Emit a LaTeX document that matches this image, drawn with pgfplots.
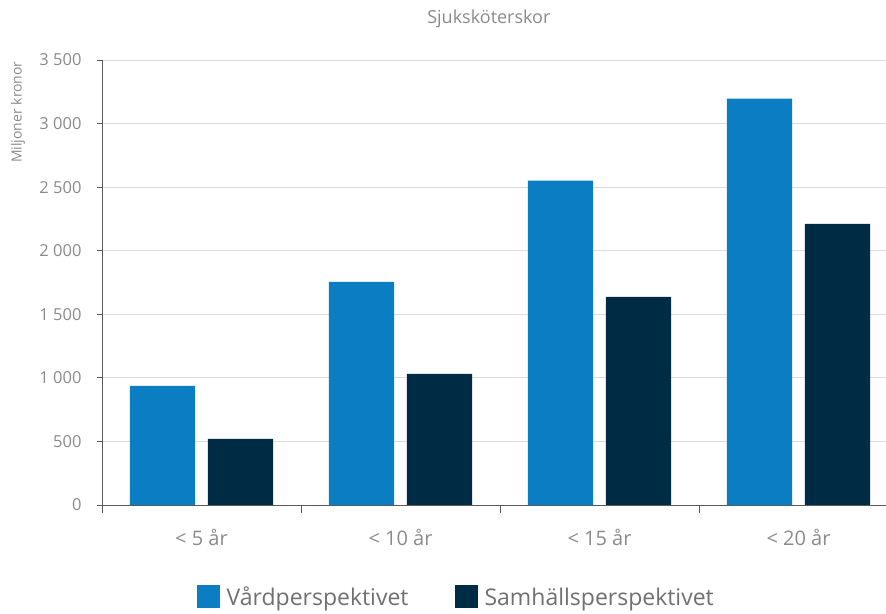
\documentclass[border=0pt]{standalone}
\usepackage{pgfplots}
\pgfplotsset{compat=1.18}
\usepackage{fontspec}
\setmainfont{Open Sans}
\definecolor{vard}{HTML}{0B7DC2}
\definecolor{samh}{HTML}{002B45}
\definecolor{gridc}{HTML}{DCDCDC}
\definecolor{axisc}{HTML}{5A5A5A}
\definecolor{txt}{HTML}{8A8A8A}
\definecolor{legtxt}{HTML}{707070}
\begin{document}
\begin{tikzpicture}
\path[use as bounding box] (0,0) rectangle (886pt,613pt);
\begin{axis}[
  at={(102pt,108pt)}, anchor=south west,
  scale only axis, width=796pt, height=445pt,
  xmin=-0.5, xmax=3.5, ymin=0, ymax=3500,
  ytick={0,500,...,3500},
  xtick={0,1,2,3},
  xticklabels={{< 5 år},{< 10 år},{< 15 år},{< 20 år}},
  minor xtick={-0.5,0.5,1.5,2.5,3.5},
  axis lines=left,
  axis line style={draw=axisc, line width=0.8pt, -},
  xtick style={draw=none},
  minor x tick style={draw=axisc, line width=0.8pt},
  ytick style={draw=axisc, line width=0.8pt},
  tick align=outside,
  major tick length=5pt,
  minor tick length=8pt,
  ymajorgrids=true,
  grid style={draw=gridc, line width=0.8pt},
  /pgf/number format/.cd, 1000 sep={\ }, assume math mode=true,
  /pgfplots/.cd,
  yticklabel style={font=\fontsize{16.5}{18}\selectfont, text=txt, xshift=-12pt},
  xticklabel style={font=\fontsize{20}{22}\selectfont, text=txt, yshift=-16pt},
  title={Sjuksköterskor},
  title style={at={(axis description cs:0.486,1.08)}, anchor=center,
    font=\fontsize{18}{20}\selectfont, text=txt},
  ylabel={Miljoner kronor},
  ylabel style={at={(axis description cs:-0.1055,0.883)}, anchor=center,
    font=\fontsize{14}{16}\selectfont, text=txt},
  legend columns=2,
  legend style={at={(axis description cs:0.445,-0.207)}, anchor=center,
    draw=none, font=\fontsize{23}{25}\selectfont, text=legtxt,
    /tikz/every even column/.append style={column sep=44pt}},
  legend image code/.code={\fill[#1,draw=none] (0pt,-11pt) rectangle (23pt,12pt); \path (28pt,0pt);},
]
\addplot[ybar, bar width=0.327, bar shift=-0.196, fill=vard, draw=none]
  coordinates {(0,937) (1,1755) (2,2551) (3,3197)};
\addlegendentry{Vårdperspektivet}
\addplot[ybar, bar width=0.327, bar shift=0.196, fill=samh, draw=none]
  coordinates {(0,520) (1,1031) (2,1637) (3,2212)};
\addlegendentry{Samhällsperspektivet}
\end{axis}
\end{tikzpicture}
\end{document}
